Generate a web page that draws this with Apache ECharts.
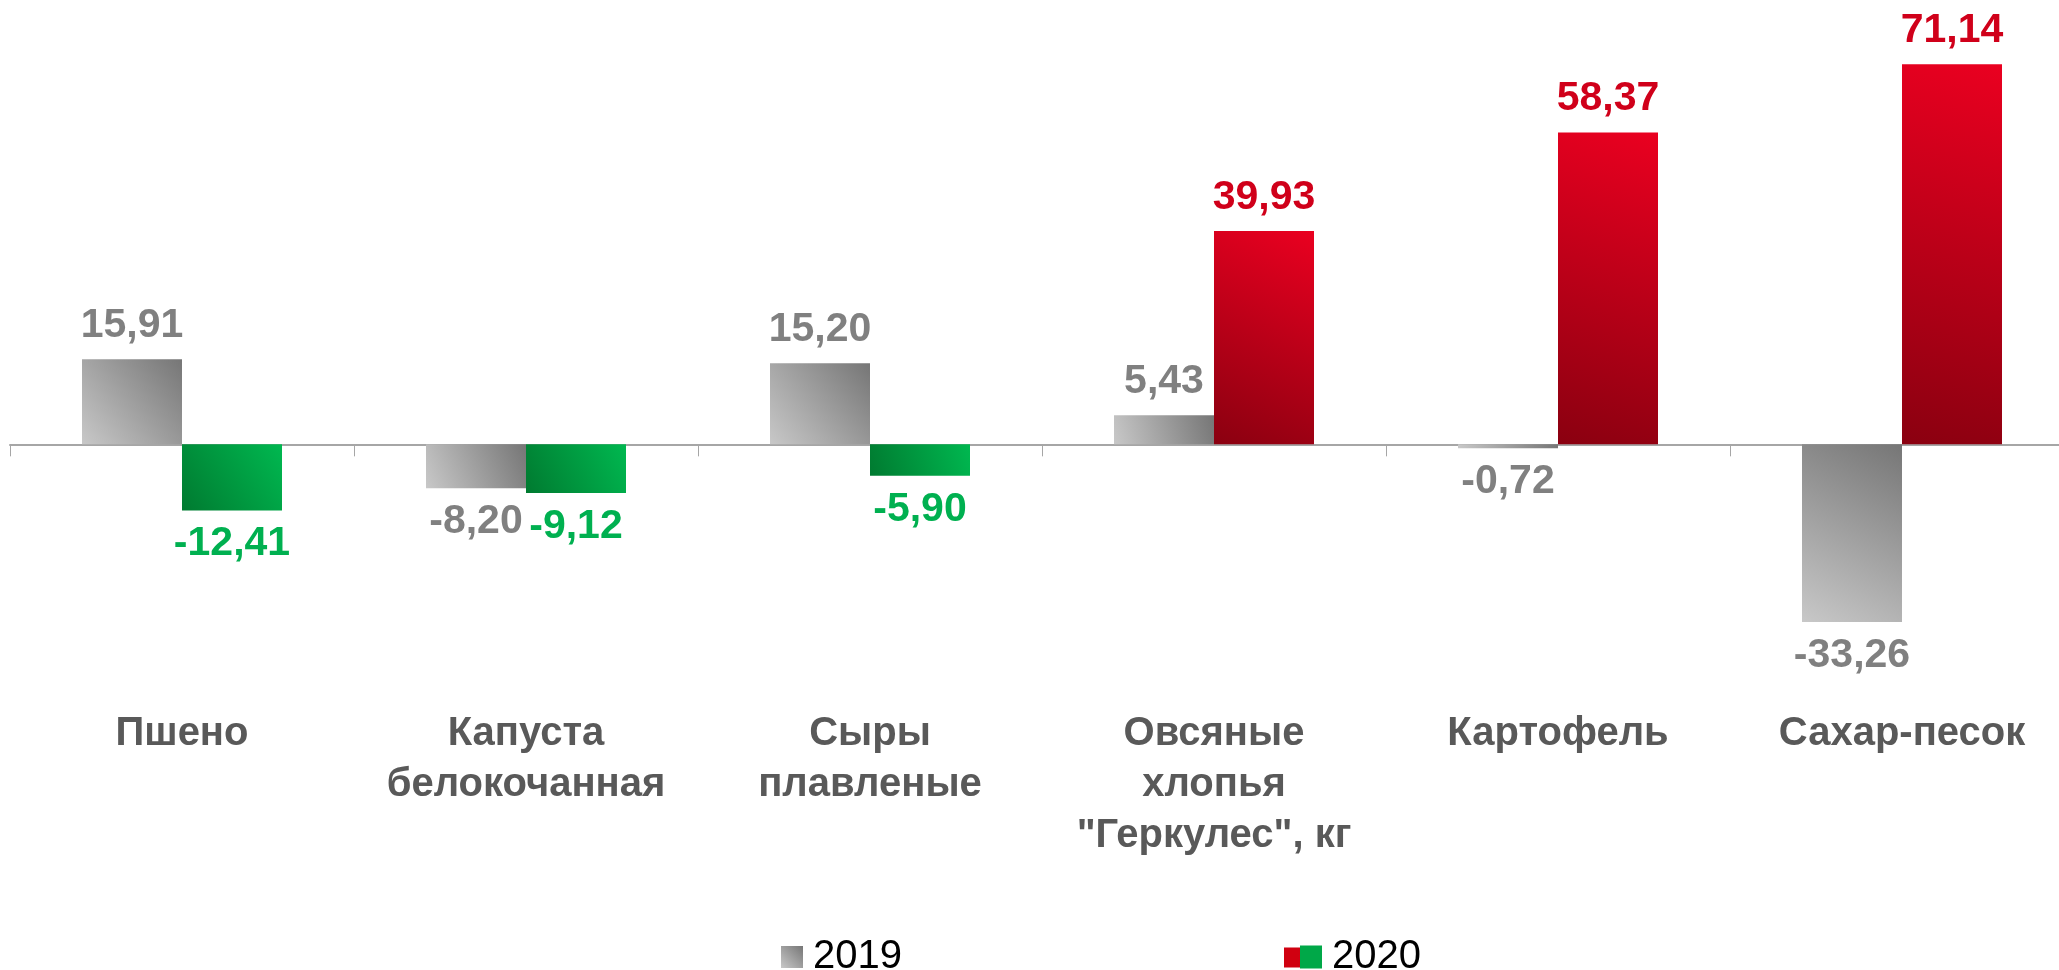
<!DOCTYPE html>
<html>
<head>
<meta charset="utf-8">
<title>chart</title>
<script src="https://cdn.jsdelivr.net/npm/echarts@6.0.0/dist/echarts.min.js"></script>
<style>
    html, body { margin: 0; padding: 0; background: #fff; }
    #container { width: 2059px; height: 970px; }
</style>
</head>
<body>
<div id="container"></div>
<script>
// данные
const categories = ['Пшено', 'Капуста\nбелокочанная', 'Сыры\nплавленые', 'Овсяные\nхлопья\n"Геркулес", кг', 'Картофель', 'Сахар-песок'];
const values2019 = [15.91, -8.20, 15.20, 5.43, -0.72, -33.26];
const values2020 = [-12.41, -9.12, -5.90, 39.93, 58.37, 71.14];
const seriesNames = ['2019', '2020'];

function grad(light, dark) {
    // светлый снизу слева, тёмный сверху справа
    return new echarts.graphic.LinearGradient(0, 1, 1, 0, [
        { offset: 0, color: light },
        { offset: 1, color: dark }
    ]);
}
const greyFill = grad('#c8c8c8', '#767676');
const redFill = grad('#8a0010', '#ea0020');
const greenFill = grad('#007a30', '#00b850');

function fmt(v) {
    return v.toFixed(2).replace('.', ',');
}

function toItems(values, posColor, negColor, posFill, negFill) {
    return values.map(v => ({
        value: v,
        itemStyle: { color: v >= 0 ? posFill : negFill },
        label: {
            position: v >= 0 ? 'top' : 'bottom',
            color: v >= 0 ? posColor : negColor
        }
    }));
}

var myChart = echarts.init(document.getElementById('container'));

let labelBase = {
    show: true,
    distance: 13,
    fontFamily: 'Liberation Sans',
    fontWeight: 'bold',
    fontSize: 41,
    formatter: p => fmt(p.value)
};

let option = {
    animation: false,
    legend: [{
        left: 776,
        top: 932,
        itemWidth: 22,
        itemHeight: 22,
        icon: 'rect',
        textStyle: { fontFamily: 'Liberation Sans', fontSize: 40, color: '#000', padding: [0, 0, 0, 5] },
        data: [{ name: seriesNames[0], itemStyle: { color: greyFill } }]
    }, {
        left: 1279,
        top: 932,
        itemWidth: 38,
        itemHeight: 23,
        icon: 'path://M0,2H20V22H0Z M16,0H38V23H16Z',
        textStyle: { fontFamily: 'Liberation Sans', fontSize: 40, color: '#000', padding: [0, 0, 0, 5] },
        data: [{
            name: seriesNames[1],
            itemStyle: {
                color: new echarts.graphic.LinearGradient(0, 0, 1, 0, [
                    { offset: 0, color: '#d00010' },
                    { offset: 0.42, color: '#d00010' },
                    { offset: 0.42, color: '#00a848' },
                    { offset: 1, color: '#00a848' }
                ])
            }
        }]
    }],
    grid: {
        left: 10,
        right: -15,
        top: 17,
        bottom: 312,
        containLabel: false,
        outerBoundsMode: 'none'
    },
    xAxis: {
        type: 'category',
        data: categories,
        axisLine: {
            show: true,
            onZero: true,
            lineStyle: { color: '#a6a6a6', width: 2 }
        },
        axisTick: {
            show: true,
            interval: 0,
            length: 12,
            lineStyle: { color: '#a6a6a6', width: 1 }
        },
        axisLabel: {
            interval: 0,
            margin: 50,
            color: '#595959',
            fontFamily: 'Liberation Sans',
            fontWeight: 'bold',
            fontSize: 40,
            lineHeight: 51,
            align: 'center'
        },
        splitLine: { show: false }
    },
    yAxis: {
        type: 'value',
        min: -40,
        max: 80,
        show: false,
        splitLine: { show: false }
    },
    series: [{
        name: seriesNames[0],
        type: 'bar',
        barWidth: 100,
        barGap: '0%',
        itemStyle: { color: greyFill },
        label: labelBase,
        data: toItems(values2019, '#808080', '#808080', greyFill, greyFill)
    }, {
        name: seriesNames[1],
        type: 'bar',
        barWidth: 100,
        barGap: '0%',
        itemStyle: { color: redFill },
        label: labelBase,
        data: toItems(values2020, '#d0001a', '#00b050', redFill, greenFill)
    }]
};

myChart.setOption(option);
window.addEventListener('resize', function() {
    myChart.resize();
});
</script>
</body>
</html>
